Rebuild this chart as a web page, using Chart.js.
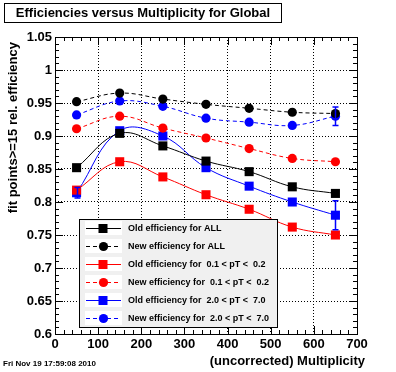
<!DOCTYPE html>
<html lang="en">
<head>
<meta charset="UTF-8">
<title>Efficiencies versus Multiplicity for Global</title>
<style>
  html, body { margin: 0; padding: 0; background: #fff; }
  .chart-box { width: 396px; height: 372px; }
</style>
</head>
<body>
<div class="chart-box"><canvas id="effChart" width="396" height="372"></canvas></div>
<script src="https://cdn.jsdelivr.net/npm/chart.js"></script>
<script>
// values
const multiplicity = [50, 150, 250, 350, 450, 550, 650];
const oldAll     = [0.852, 0.904, 0.885, 0.862, 0.846, 0.823, 0.813];
const newAll     = [0.952, 0.965, 0.956, 0.948, 0.942, 0.936, 0.934];
const oldLowPt   = [0.818, 0.861, 0.838, 0.811, 0.789, 0.762, 0.750];
const newLowPt   = [0.911, 0.930, 0.912, 0.897, 0.881, 0.866, 0.861];
const oldHighPt  = [0.814, 0.908, 0.900, 0.852, 0.824, 0.800, 0.780];
const newHighPt  = [0.932, 0.953, 0.945, 0.927, 0.921, 0.916, 0.930];
const oldHighPtErr = [0.008, 0, 0, 0, 0, 0, 0.022];
const newHighPtErr = [0, 0, 0, 0, 0, 0, 0.014];

const seriesLabels = [
  'Old efficiency for ALL',
  'New efficiency for ALL',
  'Old efficiency for  0.1 < pT <  0.2',
  'New efficiency for  0.1 < pT <  0.2',
  'Old efficiency for  2.0 < pT <  7.0',
  'New efficiency for  2.0 < pT <  7.0'
];

const chartTitle = 'Efficiencies versus Multiplicity for Global';
const xTitle = '(uncorrected) Multiplicity';
const yTitle = 'fit points>=15 rel. efficiency';
const dateStamp = 'Fri Nov 19 17:59:08 2010';

const FONT = '"Liberation Sans", Arial, Helvetica, sans-serif';

function series(label, values, color, dashed, style, errs) {
  return {
    label: label,
    data: multiplicity.map((m, i) => ({ x: m, y: values[i] })),
    errs: errs || null,
    borderColor: color,
    backgroundColor: color,
    borderWidth: 1,
    borderDash: dashed ? [4, 3] : [],
    pointStyle: style,
    pointRadius: style === 'rect' ? 6.4 : 4.6,
    pointBorderWidth: 0,
    tension: 0.4,
    fill: false
  };
}

// ROOT-like frame, ticks, error bars, legend and labels
const rootDecor = {
  id: 'rootDecor',
  afterDatasetsDraw(chart) {
    const ctx = chart.ctx;
    const ys = chart.scales.y;
    ctx.save();
    chart.data.datasets.forEach(ds => {
      if (!ds.errs) return;
      ctx.strokeStyle = ds.borderColor;
      ctx.lineWidth = 1.5;
      ds.data.forEach((p, i) => {
        const e = ds.errs[i];
        if (!e) return;
        const px = Math.round(chart.scales.x.getPixelForValue(p.x)) + 0.5;
        const top = ys.getPixelForValue(p.y + e);
        const bot = ys.getPixelForValue(p.y - e);
        ctx.beginPath();
        ctx.moveTo(px, top); ctx.lineTo(px, bot);
        ctx.moveTo(px - 3, top); ctx.lineTo(px + 3, top);
        ctx.moveTo(px - 3, bot); ctx.lineTo(px + 3, bot);
        ctx.stroke();
      });
    });
    ctx.restore();
  },
  afterDraw(chart) {
    const ctx = chart.ctx;
    const a = chart.chartArea;
    const xs = chart.scales.x, ys = chart.scales.y;
    ctx.save();

    // frame
    ctx.strokeStyle = '#000';
    ctx.lineWidth = 1;
    ctx.strokeRect(Math.round(a.left) + 0.5, Math.round(a.top) + 0.5,
                   Math.round(a.right - a.left), Math.round(a.bottom - a.top));

    // ticks on all four sides
    ctx.beginPath();
    for (let v = 0; v <= 700; v += 20) {
      const px = Math.round(xs.getPixelForValue(v)) + 0.5;
      const len = v % 100 === 0 ? 8 : 4;
      ctx.moveTo(px, a.bottom); ctx.lineTo(px, a.bottom - len);
      ctx.moveTo(px, a.top); ctx.lineTo(px, a.top + len);
    }
    for (let k = 0; k <= 45; k++) {
      const py = Math.round(ys.getPixelForValue(0.6 + k * 0.01)) + 0.5;
      const len = k % 5 === 0 ? 8 : 4;
      ctx.moveTo(a.left, py); ctx.lineTo(a.left + len, py);
      ctx.moveTo(a.right, py); ctx.lineTo(a.right - len, py);
    }
    ctx.stroke();

    // legend
    const lx = 79.5, ly = 219.5, lw = 198, lh = 108;
    ctx.fillStyle = '#f0f0f0';
    ctx.fillRect(lx, ly, lw, lh);
    ctx.strokeStyle = '#000';
    ctx.strokeRect(lx, ly, lw, lh);
    ctx.font = 'bold 9px ' + FONT;
    ctx.textBaseline = 'middle';
    ctx.textAlign = 'left';
    chart.data.datasets.forEach((ds, i) => {
      const ry = 228 + i * 18;
      ctx.fillStyle = '#fff';
      ctx.fillRect(85, ry - 7, 37, 14);
      ctx.strokeStyle = ds.borderColor;
      ctx.lineWidth = 1;
      ctx.setLineDash(ds.borderDash);
      ctx.beginPath();
      ctx.moveTo(86, ry + 0.5); ctx.lineTo(121, ry + 0.5);
      ctx.stroke();
      ctx.setLineDash([]);
      ctx.fillStyle = ds.backgroundColor;
      if (ds.pointStyle === 'rect') {
        ctx.fillRect(103 - 4.5, ry - 4, 9, 9);
      } else {
        ctx.beginPath();
        ctx.arc(103.5, ry + 0.5, 4.6, 0, Math.PI * 2);
        ctx.fill();
      }
      ctx.fillStyle = '#000';
      ctx.fillText(ds.label, 128, ry + 1);
    });

    // title box
    ctx.fillStyle = '#fff';
    ctx.fillRect(4.5, 3.5, 277, 19);
    ctx.strokeStyle = '#000';
    ctx.lineWidth = 1;
    ctx.strokeRect(4.5, 3.5, 277, 19);
    ctx.fillStyle = '#000';
    ctx.font = 'bold 13px ' + FONT;
    ctx.textAlign = 'center';
    ctx.fillText(chartTitle, 143, 13.5);

    // axis titles
    ctx.textAlign = 'right';
    ctx.fillText(xTitle, a.right + 8, 361);
    ctx.save();
    ctx.translate(13.5, a.top);
    ctx.rotate(-Math.PI / 2);
    ctx.textAlign = 'right';
    ctx.fillText(yTitle, -5, 0);
    ctx.restore();

    // date stamp
    ctx.font = 'bold 8px ' + FONT;
    ctx.textAlign = 'left';
    ctx.fillText(dateStamp, 3, 364);

    ctx.restore();
  }
};

const ctx = document.getElementById('effChart').getContext('2d');
const effChart = new Chart(ctx, {
  type: 'line',
  data: {
    datasets: [
      series(seriesLabels[0], oldAll, '#000000', false, 'rect'),
      series(seriesLabels[1], newAll, '#000000', true, 'circle'),
      series(seriesLabels[2], oldLowPt, '#ff0000', false, 'rect'),
      series(seriesLabels[3], newLowPt, '#ff0000', true, 'circle'),
      series(seriesLabels[4], oldHighPt, '#0000ff', false, 'rect', oldHighPtErr),
      series(seriesLabels[5], newHighPt, '#0000ff', true, 'circle', newHighPtErr)
    ]
  },
  options: {
    responsive: false,
    animation: false,
    layout: { padding: { left: 0, right: 39, top: 37, bottom: 0 } },
    plugins: {
      legend: { display: false },
      tooltip: { enabled: false }
    },
    scales: {
      x: {
        type: 'linear',
        min: 0,
        max: 700,
        afterFit: s => { s.height = 38; },
        grid: { color: '#000', lineWidth: 1, drawTicks: false },
        border: { display: false, dash: [1, 2] },
        ticks: {
          stepSize: 100,
          autoSkip: false,
          maxRotation: 0,
          padding: 3,
          color: '#000',
          font: { family: FONT, size: 13, weight: 'bold' }
        }
      },
      y: {
        min: 0.6,
        max: 1.05,
        afterFit: s => { s.width = 55; },
        grid: { color: '#000', lineWidth: 1, drawTicks: false },
        border: { display: false, dash: [1, 2] },
        ticks: {
          stepSize: 0.05,
          autoSkip: false,
          padding: 3,
          color: '#000',
          font: { family: FONT, size: 13, weight: 'bold' },
          callback: v => String(parseFloat(v.toFixed(2)))
        }
      }
    }
  },
  plugins: [rootDecor]
});
</script>
</body>
</html>
